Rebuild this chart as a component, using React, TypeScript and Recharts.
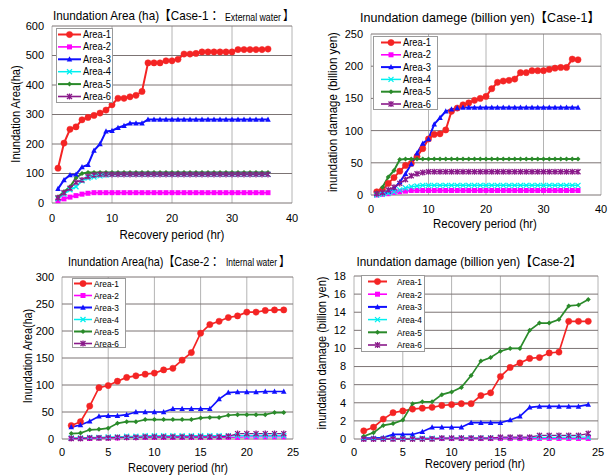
import React from 'react';
import { LineChart, Line, XAxis, YAxis, CartesianGrid, Legend } from 'recharts';

// ---------- categories ----------
const hours36 = [1, 2, 3, 4, 5, 6, 7, 8, 9, 10, 11, 12, 13, 14, 15, 16, 17, 18, 19, 20, 21, 22, 23, 24, 25, 26, 27, 28, 29, 30, 31, 32, 33, 34, 35, 36];
const hours24 = [1, 2, 3, 4, 5, 6, 7, 8, 9, 10, 11, 12, 13, 14, 15, 16, 17, 18, 19, 20, 21, 22, 23, 24];
const seriesNames = ['Area-1', 'Area-2', 'Area-3', 'Area-4', 'Area-5', 'Area-6'];

// ---------- Case-1 inundation area (ha) ----------
const c1AreaA1 = [118, 203, 250, 258, 282, 290, 297, 305, 315, 333, 355, 355, 360, 365, 378, 475, 475, 475, 482, 482, 487, 505, 505, 507, 512, 512, 512, 512, 512, 512, 520, 520, 520, 520, 520, 522];
const c1AreaA2 = [8, 14, 20, 25, 30, 33, 35, 35, 35, 35, 35, 35, 35, 35, 35, 35, 35, 35, 35, 35, 35, 35, 35, 35, 35, 35, 35, 35, 35, 35, 35, 35, 35, 35, 35, 35];
const c1AreaA3 = [48, 78, 95, 97, 122, 130, 178, 200, 243, 245, 255, 262, 270, 270, 270, 283, 283, 283, 283, 283, 283, 283, 283, 283, 283, 283, 283, 283, 283, 283, 283, 283, 283, 283, 283, 283];
const c1AreaA4 = [15, 30, 45, 55, 75, 85, 88, 92, 95, 97, 97, 97, 97, 97, 97, 97, 97, 97, 97, 97, 97, 97, 97, 97, 97, 97, 97, 97, 97, 97, 97, 97, 97, 97, 97, 97];
const c1AreaA5 = [20, 38, 55, 85, 100, 103, 103, 103, 103, 103, 103, 103, 103, 103, 103, 103, 103, 103, 103, 103, 103, 103, 103, 103, 103, 103, 103, 103, 103, 103, 103, 103, 103, 103, 103, 103];
const c1AreaA6 = [18, 35, 50, 70, 78, 90, 95, 97, 97, 97, 97, 97, 97, 97, 97, 97, 97, 97, 97, 97, 97, 97, 97, 97, 97, 97, 97, 97, 97, 97, 97, 97, 97, 97, 97, 97];

// ---------- Case-1 inundation damage (billion yen) ----------
const c1DmgA1 = [5, 8, 18, 27, 37, 46, 49, 60, 72, 87, 94, 95, 101, 130, 135, 140, 143, 147, 150, 153, 165, 175, 177, 178, 180, 190, 190, 193, 193, 193, 195, 197, 198, 198, 211, 210];
const c1DmgA2 = [0, 1, 2, 4, 5, 6, 7, 7, 7, 7, 7, 7, 7, 7, 7, 7, 7, 7, 7, 7, 7, 7, 7, 7, 7, 7, 7, 7, 7, 7, 7, 7, 7, 7, 7, 7];
const c1DmgA3 = [2, 3, 5, 10, 20, 33, 48, 65, 80, 87, 110, 120, 130, 133, 135, 136, 136, 136, 136, 136, 136, 136, 136, 136, 136, 136, 136, 136, 136, 136, 136, 136, 136, 136, 136, 136];
const c1DmgA4 = [0, 1, 3, 5, 8, 11, 13, 14, 15, 15, 15, 15, 15, 15, 15, 15, 15, 15, 15, 15, 15, 15, 15, 15, 15, 15, 15, 15, 15, 15, 15, 15, 15, 15, 15, 15];
const c1DmgA5 = [3, 12, 28, 38, 55, 56, 56, 56, 56, 56, 56, 56, 56, 56, 56, 56, 56, 56, 56, 56, 56, 56, 56, 56, 56, 56, 56, 56, 56, 56, 56, 56, 56, 56, 56, 56];
const c1DmgA6 = [2, 4, 8, 12, 18, 24, 30, 33, 35, 36, 36, 36, 36, 36, 36, 36, 36, 36, 36, 36, 36, 36, 36, 36, 36, 36, 36, 36, 36, 36, 36, 36, 36, 36, 36, 36];

// ---------- Case-2 inundation area (ha) ----------
const c2AreaA1 = [25, 32, 61, 95, 99, 107, 114, 117, 120, 122, 128, 131, 146, 160, 196, 212, 218, 225, 228, 235, 235, 238, 239, 239];
const c2AreaA2 = [1, 1, 1, 2, 2, 2, 3, 3, 3, 3, 3, 3, 3, 3, 3, 3, 3, 3, 3, 4, 4, 4, 4, 4];
const c2AreaA3 = [22, 26, 33, 42, 43, 43, 45, 50, 50, 50, 50, 56, 56, 56, 56, 56, 74, 86, 87, 87, 87, 88, 88, 88];
const c2AreaA4 = [2, 2, 3, 3, 4, 4, 5, 5, 6, 6, 6, 6, 6, 6, 6, 6, 6, 6, 6, 6, 6, 6, 6, 6];
const c2AreaA5 = [10, 11, 17, 18, 20, 29, 32, 32, 36, 36, 36, 36, 36, 36, 39, 40, 40, 44, 45, 45, 45, 45, 49, 49];
const c2AreaA6 = [1, 1, 2, 2, 2, 3, 3, 3, 4, 4, 4, 4, 4, 4, 4, 4, 4, 5, 10, 10, 10, 10, 10, 10];

// ---------- Case-2 inundation damage (billion yen) ----------
const c2DmgA1 = [0.9, 1.3, 2.2, 2.9, 3.1, 3.3, 3.4, 3.5, 3.7, 3.8, 3.9, 3.9, 4.8, 5.1, 6.9, 7.9, 8.4, 8.9, 9.0, 9.5, 9.6, 13.0, 13.0, 13.0];
const c2DmgA2 = [0.02, 0.02, 0.03, 0.03, 0.04, 0.04, 0.05, 0.05, 0.05, 0.05, 0.05, 0.05, 0.05, 0.05, 0.05, 0.05, 0.05, 0.05, 0.06, 0.06, 0.06, 0.06, 0.06, 0.06];
const c2DmgA3 = [0.1, 0.1, 0.15, 0.5, 0.5, 0.5, 0.8, 1.3, 1.3, 1.3, 1.3, 1.8, 1.8, 1.8, 1.8, 2.1, 2.5, 3.5, 3.6, 3.6, 3.6, 3.6, 3.6, 3.8];
const c2DmgA4 = [0.05, 0.05, 0.06, 0.07, 0.08, 0.08, 0.1, 0.1, 0.1, 0.1, 0.12, 0.12, 0.12, 0.12, 0.15, 0.15, 0.15, 0.15, 0.18, 0.18, 0.18, 0.2, 0.2, 0.2];
const c2DmgA5 = [0.3, 0.7, 1.5, 1.7, 2.1, 3.9, 4.1, 4.1, 4.9, 5.2, 5.7, 7.0, 8.6, 9.0, 9.7, 10.0, 10.0, 12.0, 12.8, 12.8, 13.2, 14.7, 14.8, 15.4];
const c2DmgA6 = [0, 0, 0, 0, 0, 0, 0, 0, 0.1, 0.1, 0.1, 0.1, 0.1, 0.1, 0.2, 0.2, 0.2, 0.2, 0.4, 0.4, 0.4, 0.4, 0.4, 0.6];

// ---------- tick labels ----------
const xTicks40 = [0, 10, 20, 30, 40];
const xTicks25 = [0, 5, 10, 15, 20, 25];
const yTicksC1Area = [0, 100, 200, 300, 400, 500, 600];
const yTicksC1Dmg = [0, 50, 100, 150, 200, 250];
const yTicksC2Area = [0, 50, 100, 150, 200, 250, 300];
const yTicksC2Dmg = [0, 2, 4, 6, 8, 10, 12, 14, 16, 18];

// ---------- styles ----------
const FONT = "'Liberation Sans', Arial, 'Noto Sans CJK JP', sans-serif";
const KEYS = ['a1', 'a2', 'a3', 'a4', 'a5', 'a6'];
const STYLE = [
  { color: '#f42424', shape: 'circle', width: 2 },
  { color: '#ff00ff', shape: 'square', width: 1.6 },
  { color: '#1010ff', shape: 'triangle', width: 2 },
  { color: '#00f0f0', shape: 'x', width: 1.5 },
  { color: '#2a8a2a', shape: 'diamond', width: 2 },
  { color: '#8a1a8a', shape: 'star', width: 1.6 },
];

let measureCtx: CanvasRenderingContext2D | null = null;
function measure(text: string, size: number): number {
  try {
    if (!measureCtx) measureCtx = document.createElement('canvas').getContext('2d');
    if (!measureCtx) return text.length * size * 0.55;
    measureCtx.font = `${size}px ${FONT}`;
    return measureCtx.measureText(text).width;
  } catch (e) {
    return text.length * size * 0.55;
  }
}

function buildRows(hours: number[], series: number[][]) {
  return hours.map((h, i) => {
    const row: any = { hour: h };
    series.forEach((s, k) => { row[KEYS[k]] = s[i]; });
    return row;
  });
}

function Marker({ shape, cx, cy, color, s }: any) {
  if (cx == null || cy == null) return null;
  const h = s / 2;
  switch (shape) {
    case 'circle':
      return <circle cx={cx} cy={cy} r={h * 1.25} fill={color} stroke={color} strokeWidth={0.5} />;
    case 'square':
      return <rect x={cx - h} y={cy - h} width={s} height={s} fill={color} />;
    case 'triangle':
      return <polygon points={`${cx},${cy - h * 1.2} ${cx - h * 1.1},${cy + h * 0.9} ${cx + h * 1.1},${cy + h * 0.9}`} fill={color} />;
    case 'x':
      return <path d={`M${cx - h},${cy - h}L${cx + h},${cy + h}M${cx - h},${cy + h}L${cx + h},${cy - h}`} stroke={color} strokeWidth={1.3} fill="none" />;
    case 'diamond':
      return <polygon points={`${cx},${cy - h} ${cx + h},${cy} ${cx},${cy + h} ${cx - h},${cy}`} fill={color} />;
    case 'star':
      return <path d={`M${cx - h},${cy - h}L${cx + h},${cy + h}M${cx - h},${cy + h}L${cx + h},${cy - h}M${cx},${cy - h * 1.2}L${cx},${cy + h * 1.2}`} stroke={color} strokeWidth={1.3} fill="none" />;
    default:
      return null;
  }
}

type LegendBox = { left: number; top: number; width: number; height: number; rowTop: number; rowGap: number; lineX1: number; lineX2: number; textX: number; textW: number; fontSize: number };

function makeLegend(lb: LegendBox, markerSize: number) {
  return () => (
    <svg width={lb.width} height={lb.height} style={{ display: 'block', background: '#fff' }}>
      <rect x={0.5} y={0.5} width={lb.width - 1} height={lb.height - 1} fill="#fff" stroke="#9a9a9a" />
      {seriesNames.map((n, i) => {
        const y = lb.rowTop + i * lb.rowGap;
        const st = STYLE[i];
        const mid = (lb.lineX1 + lb.lineX2) / 2;
        return (
          <g key={n}>
            <line x1={lb.lineX1} y1={y} x2={lb.lineX2} y2={y} stroke={st.color} strokeWidth={st.width} />
            <Marker shape={st.shape} cx={mid} cy={y} color={st.color} s={markerSize} />
            <text x={lb.textX} y={y} dy="0.35em" fontSize={lb.fontSize} fontFamily={FONT} fill="#000" textLength={lb.textW} lengthAdjust="spacingAndGlyphs">{n}</text>
          </g>
        );
      })}
    </svg>
  );
}

type PanelProps = {
  box: { left: number; top: number; width: number; height: number };
  plot: { left: number; top: number; right: number; bottom: number };
  rows: any[];
  xDomain: [number, number];
  xTicks: number[];
  yDomain: [number, number];
  yTicks: number[];
  legend: LegendBox;
  markerSize: number;
  lineScale: number;
  xTickMargin: number;
};

function Panel(p: PanelProps) {
  const margin = {
    top: p.plot.top - p.box.top,
    left: 0,
    right: p.box.left + p.box.width - p.plot.right,
    bottom: 0,
  };
  const yAxisWidth = p.plot.left - p.box.left;
  const xAxisHeight = p.box.top + p.box.height - p.plot.bottom;
  const legendContent = makeLegend(p.legend, p.markerSize);
  return (
    <div style={{ position: 'absolute', left: p.box.left, top: p.box.top }}>
      <LineChart width={p.box.width} height={p.box.height} data={p.rows} margin={margin}>
        <CartesianGrid horizontal={false} vertical={true} stroke="#b4b4b4" strokeWidth={1} fill="#fff" />
        <CartesianGrid horizontal={true} vertical={false} stroke="#7c7474" strokeWidth={1} />
        <XAxis
          dataKey="hour"
          type="number"
          domain={p.xDomain}
          ticks={p.xTicks}
          interval={0}
          height={xAxisHeight}
          axisLine={false}
          tickLine={false}
          tickMargin={p.xTickMargin}
          tick={{ fill: '#000', fontSize: 11, fontFamily: FONT }}
        />
        <YAxis
          type="number"
          domain={p.yDomain}
          ticks={p.yTicks}
          interval={0}
          width={yAxisWidth}
          axisLine={false}
          tickLine={false}
          tickMargin={2}
          tick={{ fill: '#000', fontSize: 11, fontFamily: FONT }}
        />
        <Legend
          layout="vertical"
          align="center"
          verticalAlign="middle"
          content={legendContent}
          wrapperStyle={{ left: p.legend.left - p.box.left, top: p.legend.top - p.box.top, width: p.legend.width, height: p.legend.height }}
        />
        {KEYS.map((k, i) => {
          const st = STYLE[i];
          return (
            <Line
              key={k}
              type="linear"
              dataKey={k}
              name={seriesNames[i]}
              stroke={st.color}
              strokeWidth={st.width * p.lineScale}
              isAnimationActive={false}
              activeDot={false}
              dot={(d: any) => (
                <g key={`${k}-${d.index}`}>
                  <Marker shape={st.shape} cx={d.cx} cy={d.cy} color={st.color} s={p.markerSize} />
                </g>
              )}
            />
          );
        })}
      </LineChart>
    </div>
  );
}

// Text squeezed horizontally (by transform) to a target width w.
function T({ x, y, w, size = 12, rotate = false, anchor = 'middle', children }: any) {
  const text = String(children);
  const natural = measure(text, size);
  const sx = w ? Math.min(1.3, w / natural) : 1;
  const tf = `translate(${x}, ${y})${rotate ? ' rotate(-90)' : ''} scale(${sx.toFixed(4)}, 1)`;
  return (
    <text
      x={0}
      y={0}
      textAnchor={anchor}
      dominantBaseline="central"
      fontFamily={FONT}
      fontSize={size}
      fill="#000"
      transform={tf}
    >
      {text}
    </text>
  );
}

export default function App() {
  const rowsC1Area = buildRows(hours36, [c1AreaA1, c1AreaA2, c1AreaA3, c1AreaA4, c1AreaA5, c1AreaA6]);
  const rowsC1Dmg = buildRows(hours36, [c1DmgA1, c1DmgA2, c1DmgA3, c1DmgA4, c1DmgA5, c1DmgA6]);
  const rowsC2Area = buildRows(hours24, [c2AreaA1, c2AreaA2, c2AreaA3, c2AreaA4, c2AreaA5, c2AreaA6]);
  const rowsC2Dmg = buildRows(hours24, [c2DmgA1, c2DmgA2, c2DmgA3, c2DmgA4, c2DmgA5, c2DmgA6]);

  return (
    <div style={{ position: 'absolute', left: 0, top: 0, width: 610, height: 475, background: '#fff', overflow: 'hidden' }}>
      {/* Top-left */}
      <Panel
        box={{ left: 0, top: 0, width: 305, height: 240 }}
        plot={{ left: 52, top: 26, right: 292, bottom: 203 }}
        rows={rowsC1Area}
        xDomain={[0, 40]}
        xTicks={xTicks40}
        yDomain={[0, 600]}
        yTicks={yTicksC1Area}
        legend={{ left: 56, top: 28, width: 57, height: 75, rowTop: 6.5, rowGap: 12.4, lineX1: 2, lineX2: 25, textX: 27, textW: 28, fontSize: 10 }}
        markerSize={5}
        lineScale={1}
        xTickMargin={5}
      />

      {/* Top-right */}
      <Panel
        box={{ left: 305, top: 0, width: 305, height: 240 }}
        plot={{ left: 371, top: 34, right: 601, bottom: 195 }}
        rows={rowsC1Dmg}
        xDomain={[0, 40]}
        xTicks={xTicks40}
        yDomain={[0, 250]}
        yTicks={yTicksC1Dmg}
        legend={{ left: 373, top: 36, width: 65, height: 74, rowTop: 6.5, rowGap: 12.3, lineX1: 8, lineX2: 28, textX: 30, textW: 28, fontSize: 10 }}
        markerSize={5}
        lineScale={1}
        xTickMargin={4}
      />

      {/* Bottom-left */}
      <Panel
        box={{ left: 0, top: 240, width: 305, height: 235 }}
        plot={{ left: 62, top: 277, right: 293, bottom: 439 }}
        rows={rowsC2Area}
        xDomain={[0, 25]}
        xTicks={xTicks25}
        yDomain={[0, 300]}
        yTicks={yTicksC2Area}
        legend={{ left: 72, top: 278, width: 54, height: 70, rowTop: 5.5, rowGap: 12, lineX1: 2, lineX2: 20, textX: 22, textW: 25, fontSize: 9.5 }}
        markerSize={5}
        lineScale={0.85}
        xTickMargin={3}
      />

      {/* Bottom-right */}
      <Panel
        box={{ left: 305, top: 240, width: 305, height: 235 }}
        plot={{ left: 354, top: 276, right: 598, bottom: 439 }}
        rows={rowsC2Dmg}
        xDomain={[0, 25]}
        xTicks={xTicks25}
        yDomain={[0, 18]}
        yTicks={yTicksC2Dmg}
        legend={{ left: 361, top: 275, width: 64, height: 77, rowTop: 6.5, rowGap: 12.7, lineX1: 7, lineX2: 26, textX: 36, textW: 25, fontSize: 9.5 }}
        markerSize={5}
        lineScale={0.85}
        xTickMargin={3}
      />

      <svg width={610} height={475} style={{ position: 'absolute', left: 0, top: 0, pointerEvents: 'none' }}>
        {/* Top-left labels */}
        <T x={53} y={16} w={168} size={13} anchor="start">Inundation Area (ha)【Case-1：</T>
        <T x={225} y={17} w={56} size={10} anchor="start">External water</T>
        <T x={283} y={16} w={11} size={13} anchor="start">】</T>
        <T x={16} y={114} w={98} rotate>Inundation Area(ha)</T>
        <T x={172} y={234} w={105}>Recovery period (hr)</T>

        {/* Top-right labels */}
        <T x={480} y={17} w={240} size={13}>Inundation damege (billion yen)【Case-1】</T>
        <T x={332} y={112} w={160} rotate>inundation damage (billion yen)</T>
        <T x={485} y={223} w={104}>Recovery period (hr)</T>

        {/* Bottom-left labels */}
        <T x={68} y={262} w={153} size={13} anchor="start">Inundation Area(ha)【Case-2：</T>
        <T x={226} y={263} w={51} size={10} anchor="start">Internal water</T>
        <T x={279} y={262} w={11} size={13} anchor="start">】</T>
        <T x={28} y={356} w={95} rotate>Inundation Area(ha)</T>
        <T x={178} y={468} w={100}>Recovery period (hr)</T>

        {/* Bottom-right labels */}
        <T x={469} y={262} w={225} size={13}>Inundation damage (billion yen)【Case-2】</T>
        <T x={322} y={353} w={153} rotate>inundation damage (billion yen)</T>
        <T x={475} y={464} w={100}>Recovery period (hr)</T>
      </svg>
    </div>
  );
}
